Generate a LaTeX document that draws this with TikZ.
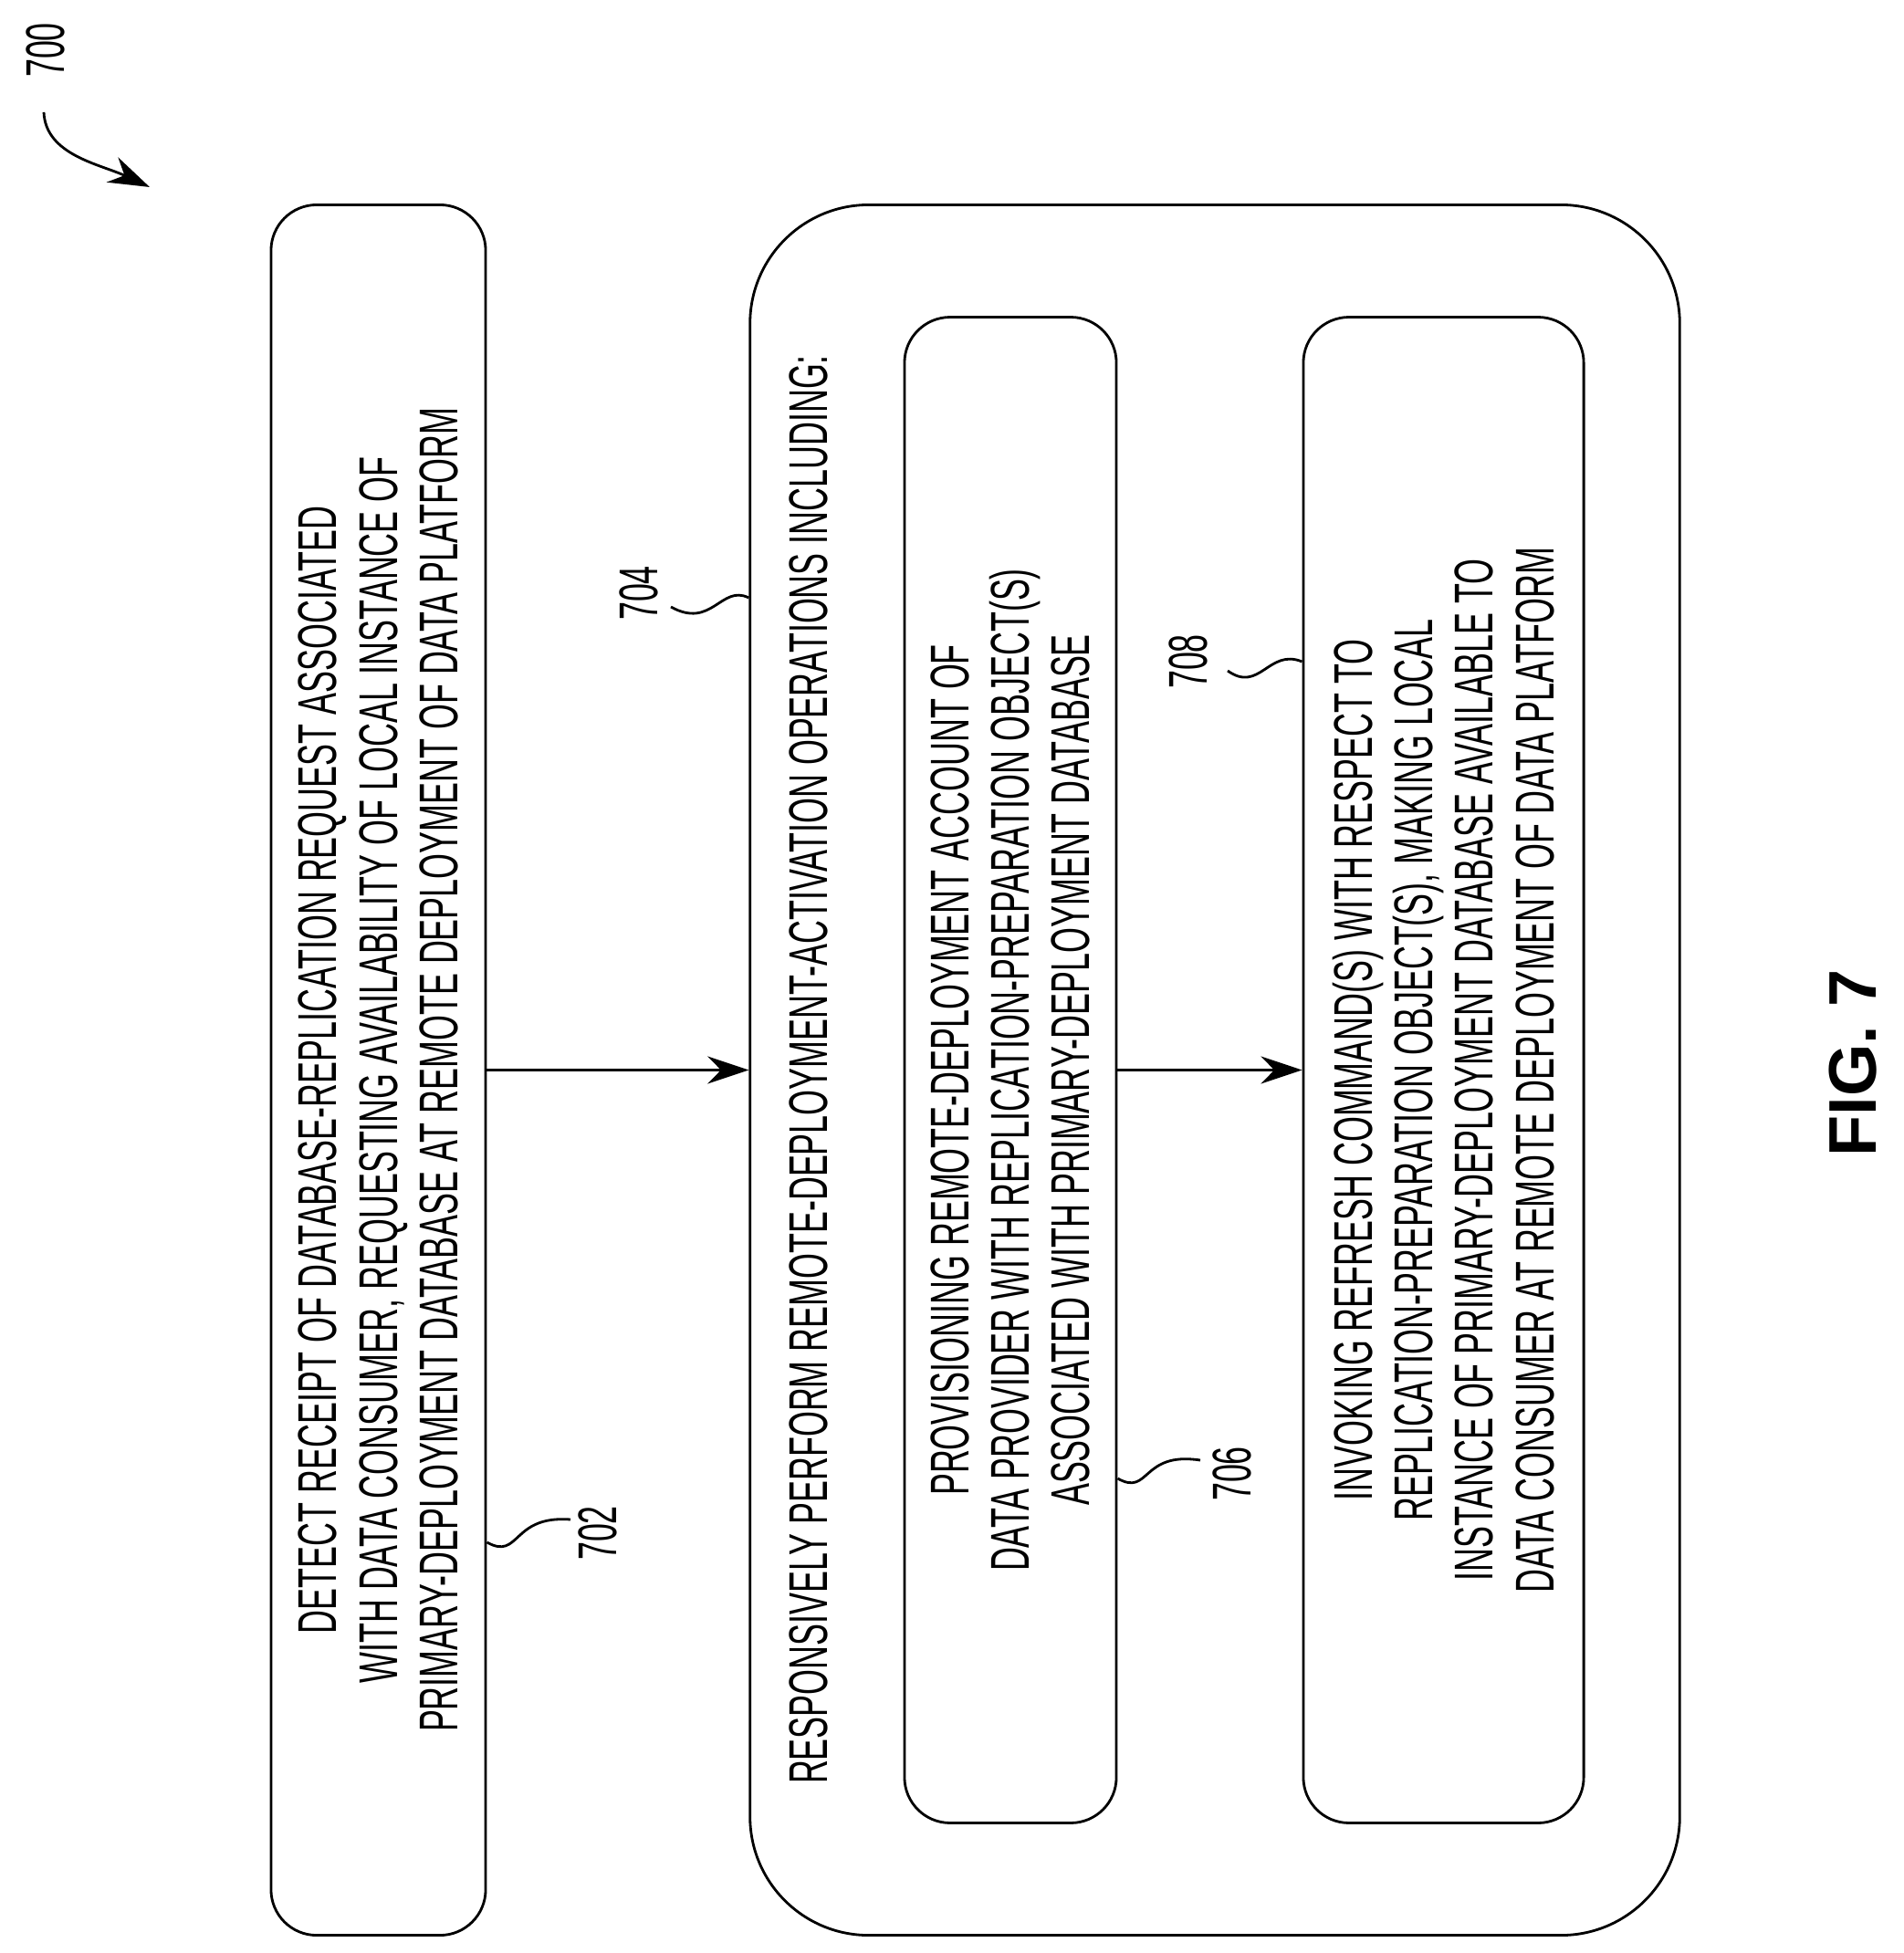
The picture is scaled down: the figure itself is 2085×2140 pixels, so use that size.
\documentclass[tikz,border=0pt]{standalone}
\usepackage{fontspec}
\setmainfont{Liberation Sans}
\newfontfamily\narrowfont[FakeStretch=0.6]{Liberation Sans}
\usetikzlibrary{arrows.meta}
\begin{document}
\begin{tikzpicture}[x=0.01cm,y=-0.01cm]
\tikzset{
  flowbox/.style={draw,thick,rounded corners=0.5cm,rotate=90,align=center,
    font=\narrowfont\fontsize{17pt}{18.8pt}\selectfont,inner sep=0pt},
  flow/.style={thick,-{Stealth[length=0.45cm,width=0.3cm]}},
  refnum/.style={rotate=90,font=\narrowfont\fontsize{17pt}{18pt}\selectfont},
  squig/.style={thick}
}
\useasboundingbox (0,0) rectangle (2085,2140);
% fig number
\node[refnum] (n700) at (50,55) {700};
\draw[flow] (48,123) .. controls (50,170) and (110,180) .. (164,205);
% step 702
\node[flowbox,minimum width=18.95cm,minimum height=2.35cm] (s702) at (414.5,1172.5)
  {DETECT RECEIPT OF DATABASE-REPLICATION REQUEST ASSOCIATED\\
   WITH DATA CONSUMER, REQUESTING AVAILABILITY OF LOCAL INSTANCE OF\\
   PRIMARY-DEPLOYMENT DATABASE AT REMOTE DEPLOYMENT OF DATA PLATFORM};
% step 704
\node[flowbox,rounded corners=1.3cm,minimum width=18.95cm,minimum height=10.18cm] (s704) at (1331,1172.5) {};
\node[refnum] (t704) at (886,1172) {RESPONSIVELY PERFORM REMOTE-DEPLOYMENT-ACTIVATION OPERATIONS INCLUDING:};
\node[flowbox,minimum width=16.49cm,minimum height=2.32cm] (s706) at (1107,1172.5)
  {PROVISIONING REMOTE-DEPLOYMENT ACCOUNT OF\\
   DATA PROVIDER WITH REPLICATION-PREPARATION OBJECT(S)\\
   ASSOCIATED WITH PRIMARY-DEPLOYMENT DATABASE};
\node[flowbox,minimum width=16.49cm,minimum height=3.07cm] (s708) at (1581.5,1172.5)
  {INVOKING REFRESH COMMAND(S) WITH RESPECT TO\\
   REPLICATION-PREPARATION OBJECT(S), MAKING LOCAL\\
   INSTANCE OF PRIMARY-DEPLOYMENT DATABASE AVAILABLE TO\\
   DATA CONSUMER AT REMOTE DEPLOYMENT OF DATA PLATFORM};
% connectors
\draw[flow] (s702.south) -- (s704.north);
\draw[flow] (s706.south) -- (s708.north);
% reference numerals
\coordinate (c702) at (s702.south |- 0,1690);
\draw[squig] (c702) .. controls (570,1710) and (560,1660) .. (625,1665);
\node[refnum] (r702) at (655,1680) {702};
\coordinate (c704) at (s704.north |- 0,655);
\draw[squig] (c704) .. controls (790,640) and (780,690) .. (735,665);
\node[refnum] (r704) at (700,650) {704};
\coordinate (c706) at (s706.south |- 0,1620);
\draw[squig] (c706) .. controls (1260,1640) and (1250,1590) .. (1315,1600);
\node[refnum] (r706) at (1350,1615) {706};
\coordinate (c708) at (s708.north |- 0,725);
\draw[squig] (c708) .. controls (1390,710) and (1380,760) .. (1345,735);
\node[refnum] (r708) at (1302,725) {708};
% figure title
\node[rotate=90,font=\bfseries\fontsize{21pt}{23pt}\selectfont] (fig) at (2030,1165) {FIG. 7};
\end{tikzpicture}
\end{document}
